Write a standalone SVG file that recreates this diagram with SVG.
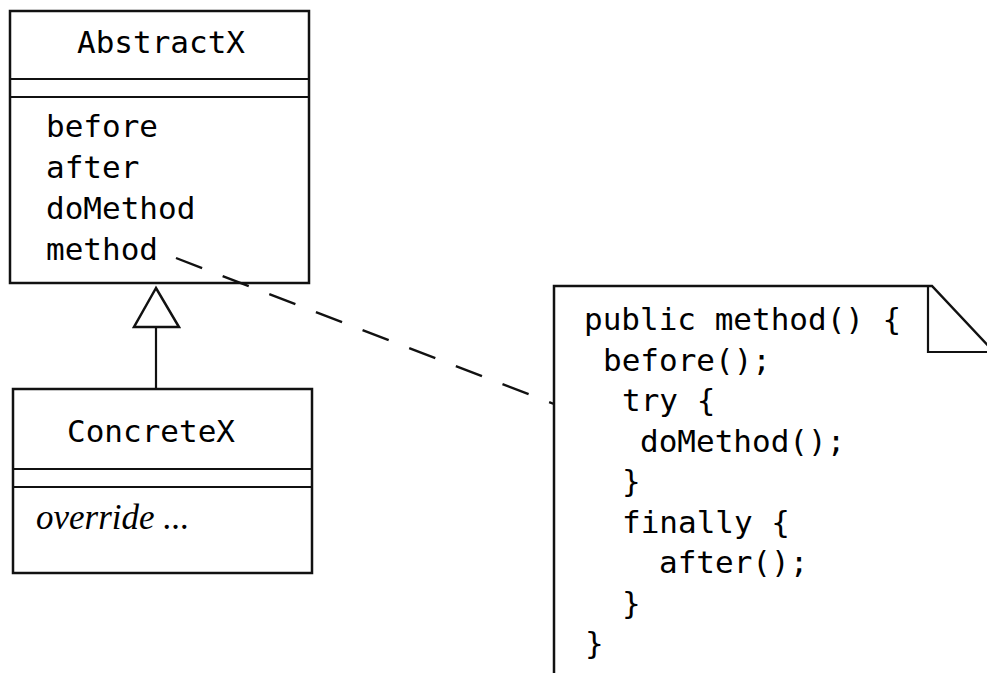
<svg xmlns="http://www.w3.org/2000/svg" width="987" height="673" viewBox="0 0 987 673">
<style>
.box{fill:#fff;stroke:#111;stroke-width:2.5}
.ln{stroke:#111;stroke-width:2.2;fill:none}
.mono{font-family:"DejaVu Sans Mono","Liberation Mono",monospace;font-size:31px;fill:#000}
.it{font-family:"Liberation Serif",serif;font-style:italic;font-size:35px;fill:#000}
.dash{stroke:#111;stroke-width:2.4;fill:none;stroke-dasharray:28 22}
</style>
<rect width="987" height="673" fill="#fff"/>
<g id="AbstractX">
<rect class="box" x="10" y="11" width="299" height="272"/>
<line class="ln" x1="10" y1="79" x2="309" y2="79"/>
<line class="ln" x1="10" y1="97" x2="309" y2="97"/>
<text class="mono" x="161" y="53" text-anchor="middle">AbstractX</text>
<text class="mono" x="46" y="137">before</text>
<text class="mono" x="46" y="178">after</text>
<text class="mono" x="46" y="219">doMethod</text>
<text class="mono" x="46" y="260">method</text>
</g>
<g id="ConcreteX">
<rect class="box" x="13" y="389" width="299" height="184"/>
<line class="ln" x1="13" y1="469" x2="312" y2="469"/>
<line class="ln" x1="13" y1="487" x2="312" y2="487"/>
<text class="mono" x="67" y="442">ConcreteX</text>
<text class="it" x="36" y="529">override ...</text>
</g>
<g id="note">
<path class="box" d="M554,673 L554,286 L932,286 L994,352 L994,673"/>
<path class="ln" d="M928,286 L928,352 L994,352"/>
<g class="mono">
<text x="584" y="330">public method() {</text>
<text x="603" y="370.5">before();</text>
<text x="622" y="411">try {</text>
<text x="640" y="451.5">doMethod();</text>
<text x="622" y="492">}</text>
<text x="622" y="532.5">finally {</text>
<text x="659" y="573">after();</text>
<text x="622" y="613.5">}</text>
<text x="585" y="654">}</text>
</g>
</g>
<g id="connectors">
<line class="ln" x1="156" y1="327" x2="156" y2="389"/>
<polygon class="box" points="156,288 134,327 179,327"/>
<line class="dash" x1="176" y1="258" x2="554" y2="404"/>
</g>
</svg>
